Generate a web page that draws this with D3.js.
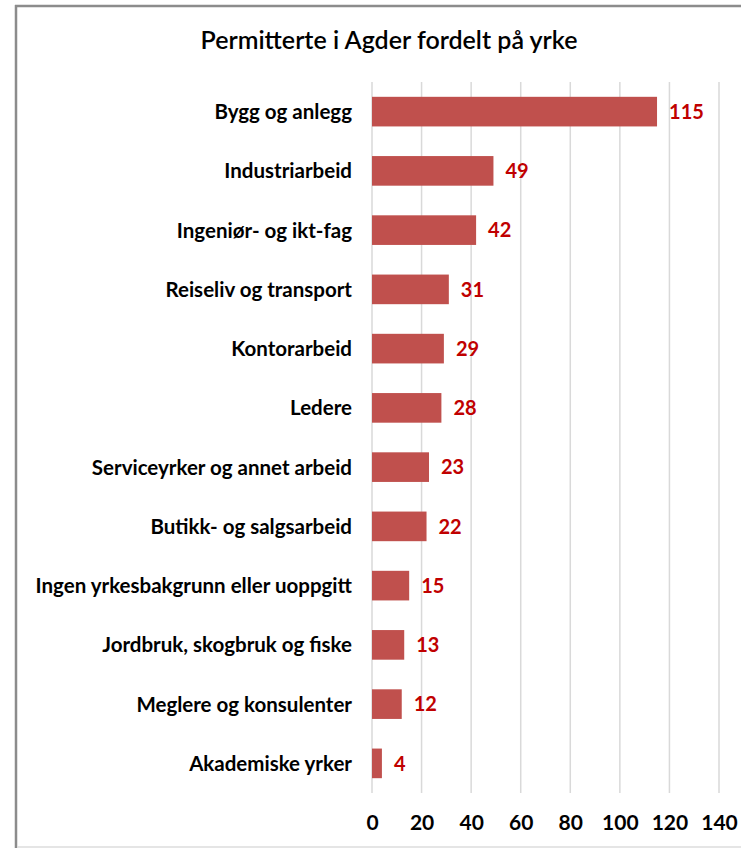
<!DOCTYPE html>
<html><head><meta charset="utf-8">
<script src="https://cdn.jsdelivr.net/npm/d3@7"></script>
<style>body{margin:0;background:#fff}svg{display:block}</style>
</head><body>
<script>
const categories = ["Bygg og anlegg","Industriarbeid","Ingeniør- og ikt-fag","Reiseliv og transport","Kontorarbeid","Ledere","Serviceyrker og annet arbeid","Butikk- og salgsarbeid","Ingen yrkesbakgrunn eller uoppgitt","Jordbruk, skogbruk og fiske","Meglere og konsulenter","Akademiske yrker"];
const values = [115,49,42,31,29,28,23,22,15,13,12,4];
const xTicks = [0,20,40,60,80,100,120,140];
const title = "Permitterte i Agder fordelt på yrke";

const W = 741, H = 848;
const font = "Lato, 'Open Sans', sans-serif";
const svg = d3.select("body").append("svg").attr("width", W).attr("height", H);

// frame
svg.append("line").attr("x1",16).attr("x2",16).attr("y1",5).attr("y2",H).attr("stroke","#8c8c8c").attr("stroke-width",2.5);
svg.append("line").attr("x1",15).attr("x2",W).attr("y1",6).attr("y2",6).attr("stroke","#8c8c8c").attr("stroke-width",2.5);
svg.append("line").attr("x1",17).attr("x2",W).attr("y1",H-1).attr("y2",H-1).attr("stroke","#dcdcdc").attr("stroke-width",1.5);

const x = d3.scaleLinear().domain([0,140]).range([372,719]);
const y = d3.scaleBand().domain(categories).range([82,793]).paddingInner(0.5).paddingOuter(0.25);

svg.append("text").attr("x",389).attr("y",49).attr("text-anchor","middle")
  .attr("font-family",font).attr("font-size",25).attr("font-weight",600).attr("fill","#000").text(title);

// gridlines
svg.append("g").selectAll("line").data(xTicks).join("line")
  .attr("x1",d=>x(d)).attr("x2",d=>x(d)).attr("y1",82).attr("y2",793)
  .attr("stroke","#d9d9d9").attr("stroke-width",1.5);

// bars
svg.append("g").selectAll("rect").data(values).join("rect")
  .attr("x",x(0)).attr("y",(d,i)=>y(categories[i])).attr("width",d=>x(d)-x(0)).attr("height",y.bandwidth())
  .attr("fill","#C0504D");

// value labels
svg.append("g").selectAll("text").data(values).join("text")
  .attr("x",d=>x(d)+12).attr("y",(d,i)=>y(categories[i])+y.bandwidth()/2).attr("dy","0.36em")
  .attr("font-family",font).attr("font-size",20).attr("font-weight",700).attr("fill","#C00000").text(d=>d);

// category axis
const yAxis = svg.append("g").attr("transform",`translate(${x(0)-20},0)`)
  .call(d3.axisLeft(y).tickSize(0).tickPadding(0));
yAxis.select(".domain").remove();
yAxis.selectAll("text").attr("dy","0.36em").attr("font-family",font).attr("font-size",20.5).attr("font-weight",700).attr("fill","#000");

// x axis
const xAxis = svg.append("g").attr("transform","translate(0,793)")
  .call(d3.axisBottom(x).tickValues(xTicks).tickSize(0));
xAxis.select(".domain").remove();
xAxis.selectAll("text").attr("y",29).attr("dy","0.36em").attr("font-family",font).attr("font-size",21).attr("font-weight",700).attr("fill","#000");
</script>
</body></html>
